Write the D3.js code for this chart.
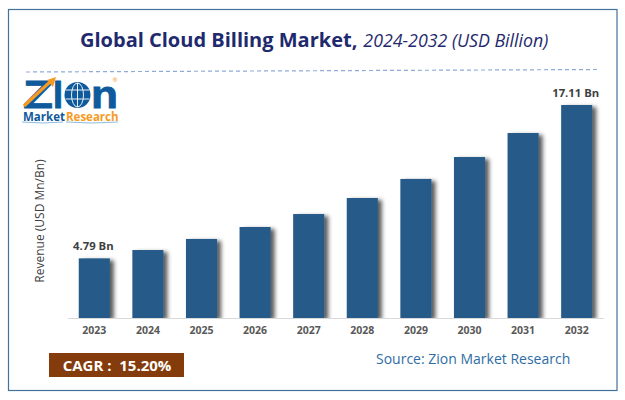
<!DOCTYPE html>
<html>
<head>
<meta charset="utf-8">
<script src="https://cdn.jsdelivr.net/npm/d3@7"></script>
<style>
html, body { margin: 0; padding: 0; background: #fff; }
svg { display: block; }
text { font-family: "Open Sans", sans-serif; }
</style>
</head>
<body>
<svg id="chart" width="625" height="400"></svg>
<script>
const years = ["2023", "2024", "2025", "2026", "2027", "2028", "2029", "2030", "2031", "2032"];
const revenue = [4.79, 5.46, 6.35, 7.31, 8.35, 9.64, 11.17, 12.93, 14.86, 17.11];
const valueLabels = { "2023": "4.79 Bn", "2032": "17.11 Bn" };

const svg = d3.select("#chart");

// frame
svg.append("rect").attr("x", 8.5).attr("y", 9.5).attr("width", 608.5).attr("height", 381)
  .attr("fill", "#fff").attr("stroke", "#41719c").attr("stroke-width", 1.2);

// title
const title = svg.append("text").attr("x", 80).attr("y", 47).attr("fill", "#1f2a6e");
title.append("tspan").attr("font-size", 20).attr("font-weight", 700).text("Global Cloud Billing Market,");
title.append("tspan").attr("dx", 6).attr("font-size", 17.8).attr("font-style", "italic").text("2024-2032 (USD Billion)");

svg.append("line").attr("x1", 26).attr("y1", 72).attr("x2", 598).attr("y2", 69.5)
  .attr("stroke", "#8fabdc").attr("stroke-width", 1.2).attr("stroke-dasharray", "4 3");

// chart
const x = d3.scaleBand().domain(years).range([67.5, 603.5]).paddingInner(0.42).paddingOuter(0.21);
const y = d3.scaleLinear().domain([0, 17.11]).range([318, 105]);

const defs = svg.append("defs");
const shadow = defs.append("filter").attr("id", "bar-shadow")
  .attr("x", "-20%").attr("y", "-5%").attr("width", "170%").attr("height", "105%");
shadow.append("feDropShadow").attr("dx", 4).attr("dy", 2).attr("stdDeviation", 2)
  .attr("flood-color", "#000").attr("flood-opacity", 0.65);

svg.append("g").selectAll("rect").data(years).enter().append("rect")
  .attr("x", d => x(d))
  .attr("y", (d, i) => y(revenue[i]))
  .attr("width", x.bandwidth())
  .attr("height", (d, i) => y(0) - y(revenue[i]))
  .attr("fill", "#255a88")
  .attr("filter", "url(#bar-shadow)");

// keep the shadow from spilling under the axis
svg.append("rect").attr("x", 60).attr("y", y(0)).attr("width", 550).attr("height", 8).attr("fill", "#fff");

const axis = svg.append("g").attr("transform", `translate(0,${y(0)})`)
  .call(d3.axisBottom(x).tickSize(0).tickPadding(9));
axis.select(".domain").attr("stroke", "#d9d9d9").attr("stroke-width", 1);
axis.selectAll("text").attr("font-size", 10.5).attr("font-weight", 700).attr("fill", "#595959")
  .style("font-family", "'Open Sans', sans-serif");

svg.append("g").selectAll("text").data(years.filter(d => valueLabels[d])).enter().append("text")
  .attr("x", d => x(d) + x.bandwidth() / 2 - 1)
  .attr("y", d => y(revenue[years.indexOf(d)]) - 8)
  .attr("text-anchor", "middle")
  .attr("font-size", 11.3).attr("font-weight", 700).attr("fill", "#404040")
  .text(d => valueLabels[d]);

svg.append("text").attr("transform", "translate(44,221) rotate(-90)")
  .attr("text-anchor", "middle").attr("font-size", 12).attr("fill", "#404040")
  .text("Revenue (USD Mn/Bn)");

// cagr badge
svg.append("rect").attr("x", 49).attr("y", 353).attr("width", 135).attr("height", 24).attr("fill", "#843c0c");
svg.append("text").attr("x", 117).attr("y", 371).attr("text-anchor", "middle")
  .attr("font-size", 15).attr("font-weight", 700).attr("fill", "#fff")
  .attr("xml:space", "preserve").text("CAGR :  15.20%");

svg.append("text").attr("x", 376).attr("y", 364).attr("font-size", 14).attr("fill", "#2e6da4")
  .text("Source: Zion Market Research");

// logo
const logo = svg.append("g");
const logoLetter = (letter, px, len) => logo.append("text")
  .attr("x", px).attr("y", 108).attr("font-size", 39).attr("font-weight", 800)
  .attr("fill", "#0f5a9c").attr("stroke", "#0f5a9c").attr("stroke-width", 0.8)
  .attr("textLength", len).attr("lengthAdjust", "spacingAndGlyphs")
  .style("font-family", "'Liberation Sans', sans-serif").text(letter);
logoLetter("Z", 23, 30);
logoLetter("I", 53, 10);
logoLetter("n", 91, 27);
logo.append("path").attr("d", d3.line()([[24, 106], [51, 81]])).attr("stroke", "#f59a23")
  .attr("stroke-width", 3.2).attr("fill", "none");
logo.append("path").attr("d", "M47,80 L56,77 L53,87 Z").attr("fill", "#f59a23");
const globe = logo.append("g").attr("transform", "translate(77.5,95)");
globe.append("circle").attr("r", 13).attr("fill", "#0f5a9c");
globe.append("ellipse").attr("rx", 6).attr("ry", 12).attr("fill", "none").attr("stroke", "#fff").attr("stroke-width", 0.9);
globe.append("path").attr("d", "M-12,-5 H12 M-12,4 H12 M0,-12 V12").attr("stroke", "#fff").attr("stroke-width", 0.9).attr("fill", "none");
logo.append("text").attr("x", 115).attr("y", 82).attr("font-size", 6).attr("text-anchor", "middle")
  .attr("fill", "#f59a23").text("®");
const brand = logo.append("text").attr("y", 121).attr("font-size", 11.5).attr("font-weight", 700);
brand.append("tspan").attr("x", 23).attr("fill", "#0f5a9c").text("Market");
brand.append("tspan").attr("x", 66).attr("fill", "#f59a23").text("Research");
logo.append("path").attr("d", "M22,122 Q44,124 63,122 M66,122 Q92,124 118,122")
  .attr("stroke", "#8dbbe0").attr("fill", "none");
</script>
</body>
</html>
